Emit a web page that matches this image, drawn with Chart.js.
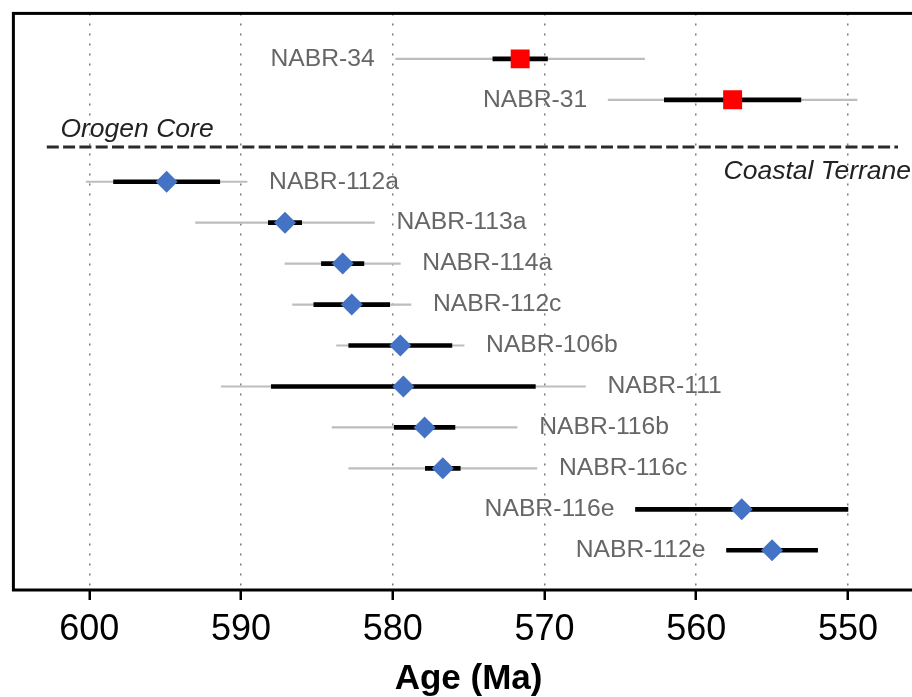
<!DOCTYPE html>
<html>
<head>
<meta charset="utf-8">
<script src="https://cdn.jsdelivr.net/npm/chart.js@4/dist/chart.umd.min.js"></script>
<style>
  html, body { margin: 0; padding: 0; overflow: hidden; background: #fff; width: 912px; height: 697px; }
  #wrap { width: 938px; height: 697px; }
  canvas { display: block; }
</style>
</head>
<body>
<div id="wrap"><canvas id="c" width="938" height="697"></canvas></div>
<script>
// Sample names, top to bottom
const samples = ['NABR-34', 'NABR-31', 'NABR-112a', 'NABR-113a', 'NABR-114a', 'NABR-112c',
  'NABR-106b', 'NABR-111', 'NABR-116b', 'NABR-116c', 'NABR-116e', 'NABR-112e'];
// Domain of each sample
const domain = ['core', 'core', 'coastal', 'coastal', 'coastal', 'coastal',
  'coastal', 'coastal', 'coastal', 'coastal', 'coastal', 'coastal'];
// Weighted mean ages (Ma)
const ages = [571.6, 557.6, 594.9, 587.1, 583.3, 582.7, 579.5, 579.3, 577.9, 576.7, 557.0, 555.0];
// Analytical uncertainty (Ma)
const errInner = [1.8, 4.5, 3.5, 1.1, 1.4, 2.5, 3.4, 8.7, 2.0, 1.15, 7.0, 3.0];
// Total uncertainty (Ma)
const errOuter = [8.2, 8.2, 5.3, 5.9, 3.8, 3.9, 4.2, 12.0, 6.1, 6.2, 7.0, 3.0];
// Axis ticks
const tickValues = [600, 590, 580, 570, 560, 550];
// Which side of the bar each name sits on
const labelSide = ['left', 'left', 'right', 'right', 'right', 'right',
  'right', 'right', 'right', 'right', 'left', 'left'];
const zoneNames = ['Orogen Core', 'Coastal Terrane'];

// Row numbers from the bottom, leaving one empty row between the two domains
const rows = new Array(samples.length);
{
  let r = 0;
  for (let i = samples.length - 1; i >= 0; i--) {
    if (i < samples.length - 1 && domain[i] !== domain[i + 1]) r += 1;
    r += 1;
    rows[i] = r;
  }
}
const dividerRow = 10.85;

const idx = samples.map((_, i) => i);
const bar = (err) => idx.map(i => ({ x: [ages[i] + err[i], ages[i] - err[i]], y: rows[i] }));
const pts = (d) => idx.filter(i => domain[i] === d).map(i => ({ x: ages[i], y: rows[i] }));

const FONT = "'Liberation Sans', Arial, sans-serif";

const annotate = {
  id: 'annotate',
  afterDatasetsDraw(chart) {
    const { ctx, scales: { x, y } } = chart;
    ctx.save();
    ctx.font = '24.7px ' + FONT;
    ctx.fillStyle = '#666666';
    ctx.textBaseline = 'middle';
    idx.forEach(i => {
      const p1 = x.getPixelForValue(ages[i] + errOuter[i]);
      const p2 = x.getPixelForValue(ages[i] - errOuter[i]);
      const py = y.getPixelForValue(rows[i]);
      if (labelSide[i] === 'right') {
        ctx.textAlign = 'left';
        ctx.fillText(samples[i], Math.max(p1, p2) + 22, py);
      } else {
        ctx.textAlign = 'right';
        ctx.fillText(samples[i], Math.min(p1, p2) - 21, py);
      }
    });
    // domain names either side of the divider
    ctx.font = 'italic 26.5px ' + FONT;
    ctx.fillStyle = '#222222';
    ctx.textBaseline = 'alphabetic';
    ctx.textAlign = 'left';
    ctx.fillText(zoneNames[0], x.getPixelForValue(601.9), y.getPixelForValue(11.08));
    ctx.fillText(zoneNames[1], x.getPixelForValue(558.2), y.getPixelForValue(10.07));
    ctx.restore();
  },
  afterDraw(chart) {
    const { ctx, chartArea: a } = chart;
    ctx.save();
    ctx.strokeStyle = '#000';
    ctx.lineWidth = 3;
    ctx.strokeRect(a.left, a.top, a.right - a.left, a.bottom - a.top);
    ctx.restore();
  }
};

new Chart(document.getElementById('c'), {
  type: 'scatter',
  data: {
    datasets: [
      { type: 'scatter', data: pts('core'), pointStyle: 'rect', pointRadius: 13.4,
        backgroundColor: '#ff0000', borderWidth: 0, order: 0 },
      { type: 'scatter', data: pts('coastal'), pointStyle: 'rectRot', pointRadius: 11,
        backgroundColor: '#4472c4', borderWidth: 0, order: 0 },
      { type: 'bar', indexAxis: 'y', data: bar(errInner), backgroundColor: '#000',
        barThickness: 4, grouped: false, order: 1 },
      { type: 'bar', indexAxis: 'y', data: bar(errOuter), backgroundColor: '#bdbdbd',
        barThickness: 1.5, grouped: false, order: 2 },
      { type: 'line', data: [{ x: 602.8, y: dividerRow }, { x: 546.7, y: dividerRow }],
        borderColor: '#2b2b2b', borderWidth: 3, borderDash: [12, 4.3], pointRadius: 0,
        fill: false, order: 3 }
    ]
  },
  options: {
    responsive: false,
    animation: false,
    events: [],
    layout: { padding: { left: 11.8, top: 10, right: 14.2, bottom: 0 } },
    plugins: { legend: { display: false }, tooltip: { enabled: false } },
    scales: {
      x: {
        type: 'linear', reverse: true, min: 545, max: 605, offset: false,
        afterBuildTicks: s => { s.ticks = tickValues.map(v => ({ value: v })); },
        afterFit: s => { s.height = 107; s.paddingLeft = 0; s.paddingRight = 0; },
        grid: { color: '#7a7a7a', lineWidth: 1.5, tickColor: '#000', tickWidth: 2.5, tickLength: 10, offset: false },
        border: { display: false, dash: [2, 8] },
        ticks: { color: '#000', font: { family: FONT, size: 36 }, padding: 8, maxRotation: 0, autoSkip: false },
        title: { display: true, text: 'Age (Ma)', color: '#000',
          font: { family: FONT, size: 35, weight: 'bold', lineHeight: 1 }, padding: { top: 0, bottom: 0 } }
      },
      y: { type: 'linear', display: false, min: 0.03, max: 14.11, offset: false, grid: { offset: false } }
    }
  },
  plugins: [annotate]
});
</script>
</body>
</html>
